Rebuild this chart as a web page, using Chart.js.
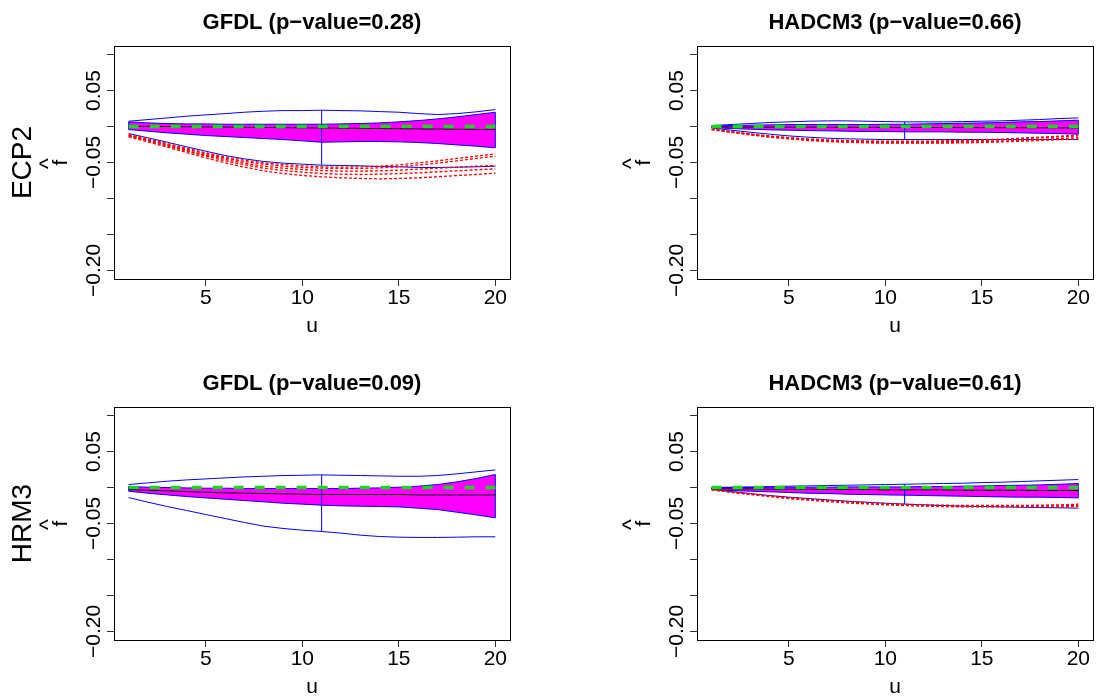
<!DOCTYPE html>
<html>
<head>
<meta charset="utf-8">
<script src="https://cdn.jsdelivr.net/npm/chart.js@4.4.1/dist/chart.umd.min.js"></script>
<style>
html, body { margin: 0; padding: 0; background: #fff; overflow: hidden; }
#wrap { position: relative; width: 1096px; height: 700px; overflow: hidden; }
canvas { position: absolute; }
</style>
</head>
<body>
<div id="wrap">
  <canvas id="c1" width="548" height="350" style="left:0px;top:0px"></canvas>
  <canvas id="c2" width="548" height="350" style="left:583px;top:0px"></canvas>
  <canvas id="c3" width="548" height="350" style="left:0px;top:361px"></canvas>
  <canvas id="c4" width="548" height="350" style="left:583px;top:361px"></canvas>
</div>
<script>
// lag u
const u = [1,2,3,4,5,6,7,8,9,10,11,12,13,14,15,16,17,18,19,20];
const xTickVals = [5,10,15,20];
const yTickVals = [-0.2,-0.15,-0.1,-0.05,0,0.05,0.1];
const yLabelVals = [0.05,-0.05,-0.2];
const yLabelText = ['0.05','\u22120.05','\u22120.20'];
const refZero = [0,0,0,0,0,0,0,0,0,0,0,0,0,0,0,0,0,0,0,0];

// ECP2 / GFDL
const ecp2GfdlOuterUp = [0.0074,0.0097,0.0120,0.0144,0.0162,0.0180,0.0199,0.0213,0.0222,0.0222,0.0227,0.0222,0.0218,0.0208,0.0199,0.0180,0.0167,0.0180,0.0204,0.0236];
const ecp2GfdlBandUp = [0.0065,0.0051,0.0042,0.0037,0.0037,0.0032,0.0032,0.0032,0.0032,0.0032,0.0032,0.0037,0.0042,0.0051,0.0065,0.0083,0.0106,0.0134,0.0167,0.0199];
const ecp2GfdlMid = [0.0005,0.0002,0.0000,-0.0003,-0.0005,-0.0008,-0.0010,-0.0013,-0.0015,-0.0018,-0.0020,-0.0023,-0.0025,-0.0028,-0.0030,-0.0033,-0.0035,-0.0038,-0.0040,-0.0042];
const ecp2GfdlBandLo = [-0.0042,-0.0065,-0.0088,-0.0106,-0.0125,-0.0139,-0.0153,-0.0167,-0.0181,-0.0199,-0.0218,-0.0213,-0.0208,-0.0208,-0.0213,-0.0222,-0.0236,-0.0255,-0.0273,-0.0296];
const ecp2GfdlOuterLo = [-0.0097,-0.0157,-0.0218,-0.0282,-0.0343,-0.0403,-0.0449,-0.0486,-0.0509,-0.0523,-0.0537,-0.0542,-0.0546,-0.0556,-0.0560,-0.0569,-0.0569,-0.0565,-0.0560,-0.0551];
const ecp2GfdlSim1 = [-0.0111,-0.0171,-0.0236,-0.0301,-0.0366,-0.0421,-0.0468,-0.0505,-0.0528,-0.0546,-0.0560,-0.0565,-0.0560,-0.0551,-0.0532,-0.0505,-0.0477,-0.0444,-0.0412,-0.0380];
const ecp2GfdlSim2 = [-0.0120,-0.0181,-0.0250,-0.0315,-0.0380,-0.0440,-0.0486,-0.0523,-0.0551,-0.0569,-0.0579,-0.0583,-0.0583,-0.0574,-0.0560,-0.0537,-0.0509,-0.0477,-0.0444,-0.0412];
const ecp2GfdlSim3 = [-0.0125,-0.0190,-0.0259,-0.0329,-0.0398,-0.0458,-0.0509,-0.0551,-0.0579,-0.0597,-0.0611,-0.0620,-0.0620,-0.0616,-0.0606,-0.0593,-0.0579,-0.0565,-0.0551,-0.0542];
const ecp2GfdlSim4 = [-0.0134,-0.0199,-0.0273,-0.0343,-0.0412,-0.0477,-0.0532,-0.0579,-0.0611,-0.0634,-0.0653,-0.0662,-0.0667,-0.0662,-0.0653,-0.0644,-0.0630,-0.0616,-0.0602,-0.0588];
const ecp2GfdlSim5 = [-0.0144,-0.0213,-0.0287,-0.0361,-0.0435,-0.0505,-0.0565,-0.0616,-0.0653,-0.0681,-0.0699,-0.0713,-0.0722,-0.0727,-0.0722,-0.0713,-0.0699,-0.0681,-0.0667,-0.0648];

// ECP2 / HADCM3
const ecp2HadOuterUp = [0.0014,0.0028,0.0042,0.0056,0.0065,0.0074,0.0079,0.0079,0.0074,0.0069,0.0065,0.0065,0.0065,0.0069,0.0074,0.0079,0.0088,0.0097,0.0111,0.0120];
const ecp2HadBandUp = [0.0005,0.0014,0.0019,0.0023,0.0028,0.0028,0.0028,0.0028,0.0028,0.0032,0.0032,0.0037,0.0042,0.0046,0.0051,0.0056,0.0065,0.0069,0.0079,0.0088];
const ecp2HadMid = [-0.0005,-0.0006,-0.0007,-0.0008,-0.0009,-0.0010,-0.0010,-0.0011,-0.0012,-0.0012,-0.0013,-0.0013,-0.0014,-0.0014,-0.0015,-0.0015,-0.0016,-0.0017,-0.0018,-0.0019];
const ecp2HadBandLo = [-0.0014,-0.0028,-0.0037,-0.0046,-0.0051,-0.0056,-0.0060,-0.0065,-0.0069,-0.0069,-0.0074,-0.0074,-0.0074,-0.0079,-0.0079,-0.0083,-0.0088,-0.0093,-0.0097,-0.0106];
const ecp2HadOuterLo = [-0.0019,-0.0051,-0.0079,-0.0106,-0.0130,-0.0148,-0.0162,-0.0171,-0.0176,-0.0181,-0.0181,-0.0181,-0.0181,-0.0181,-0.0181,-0.0181,-0.0181,-0.0181,-0.0181,-0.0181];
const ecp2HadSim1 = [-0.0032,-0.0069,-0.0102,-0.0130,-0.0153,-0.0171,-0.0185,-0.0194,-0.0199,-0.0204,-0.0204,-0.0204,-0.0199,-0.0194,-0.0185,-0.0176,-0.0162,-0.0148,-0.0134,-0.0116];
const ecp2HadSim2 = [-0.0037,-0.0074,-0.0106,-0.0134,-0.0162,-0.0181,-0.0194,-0.0204,-0.0208,-0.0213,-0.0213,-0.0213,-0.0208,-0.0204,-0.0194,-0.0185,-0.0171,-0.0157,-0.0144,-0.0130];
const ecp2HadSim3 = [-0.0042,-0.0079,-0.0111,-0.0144,-0.0167,-0.0185,-0.0204,-0.0213,-0.0218,-0.0222,-0.0222,-0.0222,-0.0222,-0.0218,-0.0213,-0.0204,-0.0194,-0.0181,-0.0167,-0.0153];
const ecp2HadSim4 = [-0.0042,-0.0079,-0.0116,-0.0148,-0.0171,-0.0194,-0.0208,-0.0218,-0.0227,-0.0231,-0.0231,-0.0231,-0.0231,-0.0227,-0.0222,-0.0213,-0.0204,-0.0194,-0.0181,-0.0171];

// HRM3 / GFDL
const hrm3GfdlOuterUp = [0.0042,0.0065,0.0088,0.0106,0.0120,0.0134,0.0148,0.0157,0.0167,0.0171,0.0176,0.0171,0.0167,0.0162,0.0157,0.0157,0.0167,0.0190,0.0218,0.0245];
const hrm3GfdlBandUp = [0.0014,0.0005,0.0000,-0.0005,-0.0009,-0.0009,-0.0014,-0.0014,-0.0014,-0.0014,-0.0014,-0.0014,-0.0009,-0.0005,0.0005,0.0019,0.0042,0.0079,0.0125,0.0181];
const hrm3GfdlMid = [-0.0028,-0.0037,-0.0046,-0.0056,-0.0065,-0.0074,-0.0079,-0.0083,-0.0088,-0.0093,-0.0097,-0.0097,-0.0097,-0.0097,-0.0097,-0.0102,-0.0102,-0.0102,-0.0102,-0.0102];
const hrm3GfdlBandLo = [-0.0051,-0.0079,-0.0102,-0.0125,-0.0144,-0.0162,-0.0181,-0.0199,-0.0218,-0.0231,-0.0245,-0.0255,-0.0259,-0.0264,-0.0269,-0.0287,-0.0306,-0.0343,-0.0380,-0.0421];
const hrm3GfdlOuterLo = [-0.0139,-0.0204,-0.0264,-0.0319,-0.0375,-0.0431,-0.0486,-0.0537,-0.0569,-0.0593,-0.0611,-0.0634,-0.0662,-0.0681,-0.0690,-0.0694,-0.0694,-0.0690,-0.0685,-0.0685];

// HRM3 / HADCM3
const hrm3HadOuterUp = [0.0000,0.0005,0.0009,0.0014,0.0019,0.0023,0.0028,0.0032,0.0037,0.0042,0.0046,0.0051,0.0056,0.0060,0.0069,0.0074,0.0083,0.0093,0.0102,0.0111];
const hrm3HadBandUp = [0.0000,0.0000,0.0000,0.0005,0.0005,0.0005,0.0005,0.0009,0.0009,0.0009,0.0009,0.0014,0.0014,0.0019,0.0023,0.0028,0.0032,0.0037,0.0046,0.0056];
const hrm3HadMid = [-0.0014,-0.0019,-0.0019,-0.0023,-0.0023,-0.0023,-0.0028,-0.0028,-0.0028,-0.0032,-0.0032,-0.0032,-0.0032,-0.0037,-0.0037,-0.0037,-0.0037,-0.0042,-0.0042,-0.0042];
const hrm3HadBandLo = [-0.0028,-0.0042,-0.0051,-0.0060,-0.0069,-0.0079,-0.0083,-0.0093,-0.0097,-0.0102,-0.0106,-0.0111,-0.0116,-0.0120,-0.0125,-0.0130,-0.0134,-0.0134,-0.0139,-0.0144];
const hrm3HadOuterLo = [-0.0023,-0.0056,-0.0083,-0.0111,-0.0134,-0.0153,-0.0171,-0.0190,-0.0204,-0.0218,-0.0231,-0.0241,-0.0250,-0.0259,-0.0264,-0.0269,-0.0273,-0.0278,-0.0282,-0.0287];
const hrm3HadSim1 = [-0.0028,-0.0060,-0.0088,-0.0116,-0.0139,-0.0162,-0.0181,-0.0194,-0.0208,-0.0222,-0.0231,-0.0241,-0.0245,-0.0250,-0.0250,-0.0250,-0.0250,-0.0245,-0.0241,-0.0231];
const hrm3HadSim2 = [-0.0032,-0.0065,-0.0093,-0.0120,-0.0148,-0.0167,-0.0185,-0.0204,-0.0218,-0.0231,-0.0241,-0.0250,-0.0255,-0.0259,-0.0259,-0.0259,-0.0259,-0.0255,-0.0255,-0.0250];
const hrm3HadSim3 = [-0.0032,-0.0065,-0.0097,-0.0125,-0.0153,-0.0176,-0.0194,-0.0213,-0.0227,-0.0241,-0.0250,-0.0259,-0.0264,-0.0269,-0.0269,-0.0269,-0.0269,-0.0269,-0.0269,-0.0264];

const FONT = '"Liberation Sans", Arial, Helvetica, sans-serif';
const BLUE = '#0000ff';

function pts(arr) {
  return arr.map((y, i) => ({ x: u[i], y: y }));
}

// first dataset is drawn on top
function makeDatasets(p) {
  const last = u.length - 1;
  const mark = 10; // u = 11
  const ds = [];
  ds.push({ data: pts(refZero), borderColor: '#14dc14', borderWidth: 3.5, borderDash: [10, 11], borderCapStyle: 'butt' });
  ds.push({ data: pts(p.mid), borderColor: '#000000', borderWidth: 1 });
  p.sims.forEach(s => ds.push({ data: pts(s), borderColor: '#ff0000', borderWidth: 1.3, borderDash: [3, 2] }));
  ds.push({ data: pts(p.outerUp), borderColor: BLUE, borderWidth: 1 });
  ds.push({ data: pts(p.outerLo), borderColor: BLUE, borderWidth: 1 });
  ds.push({ data: [{ x: u[mark], y: p.outerLo[mark] }, { x: u[mark], y: p.outerUp[mark] }], borderColor: BLUE, borderWidth: 1 });
  ds.push({ data: [{ x: u[last], y: p.bandLo[last] }, { x: u[last], y: p.bandUp[last] }], borderColor: BLUE, borderWidth: 1 });
  ds.push({ data: [{ x: u[0], y: p.bandLo[0] }, { x: u[0], y: p.bandUp[0] }], borderColor: BLUE, borderWidth: 1 });
  ds.push({ data: pts(p.bandUp), borderColor: BLUE, borderWidth: 1, fill: '+1', backgroundColor: '#ff00ff' });
  ds.push({ data: pts(p.bandLo), borderColor: BLUE, borderWidth: 1 });
  return ds;
}

const panelText = {
  id: 'panelText',
  afterDraw(chart, args, opts) {
    const ctx = chart.ctx;
    const a = chart.chartArea;
    const ys = chart.scales.y;
    const cy = (a.top + a.bottom) / 2;
    const cx = (a.left + a.right) / 2;
    ctx.save();
    ctx.strokeStyle = '#000';
    ctx.lineWidth = 1;
    ctx.strokeRect(Math.round(a.left) + 0.5, Math.round(a.top) + 0.5, Math.round(a.right - a.left), Math.round(a.bottom - a.top));
    ctx.fillStyle = '#000';
    ctx.textAlign = 'center';
    ctx.textBaseline = 'alphabetic';
    ctx.font = 'bold 22px ' + FONT;
    ctx.fillText(opts.title, cx, a.top - 17);
    ctx.font = '21px ' + FONT;
    ctx.fillText('u', cx, a.bottom + 53);
    // rotated y tick labels
    yLabelVals.forEach((v, i) => {
      ctx.save();
      ctx.translate(a.left - 14, ys.getPixelForValue(v));
      ctx.rotate(-Math.PI / 2);
      ctx.fillText(yLabelText[i], 0, 0);
      ctx.restore();
    });
    // f hat
    ctx.save();
    ctx.translate(a.left - 47, cy);
    ctx.rotate(-Math.PI / 2);
    ctx.fillText('f', 0, 0);
    ctx.restore();
    ctx.save();
    ctx.font = '23px ' + FONT;
    ctx.translate(a.left - 58, cy + 1);
    ctx.rotate(-Math.PI / 2);
    ctx.fillText('^', 0, 0);
    ctx.restore();
    if (opts.row) {
      ctx.save();
      ctx.font = '28px ' + FONT;
      ctx.translate(a.left - 83, cy);
      ctx.rotate(-Math.PI / 2);
      ctx.fillText(opts.row, 0, 0);
      ctx.restore();
    }
    ctx.restore();
  }
};

function tickGrid() {
  return { display: true, drawOnChartArea: false, drawTicks: true, tickLength: 7, color: '#333', lineWidth: 1 };
}

function makeChart(id, title, row, p) {
  return new Chart(document.getElementById(id), {
    type: 'line',
    data: { datasets: makeDatasets(p) },
    options: {
      responsive: false,
      animation: false,
      layout: { padding: { left: 0, right: 38, top: 46, bottom: 0 } },
      elements: { point: { radius: 0 }, line: { tension: 0, fill: false } },
      plugins: {
        legend: { display: false },
        tooltip: { enabled: false },
        filler: { drawTime: 'beforeDatasetsDraw' },
        panelText: { title: title, row: row }
      },
      scales: {
        x: {
          type: 'linear', min: 0.24, max: 20.76,
          afterBuildTicks: s => { s.ticks = xTickVals.map(v => ({ value: v })); },
          afterFit: s => { s.height = 71; },
          grid: tickGrid(),
          border: { display: false },
          ticks: { color: '#000', font: { family: FONT, size: 21 }, padding: 0, maxRotation: 0, autoSkip: false, callback: v => String(v) }
        },
        y: {
          type: 'linear', min: -0.212, max: 0.112,
          afterBuildTicks: s => { s.ticks = yTickVals.map(v => ({ value: v })); },
          afterFit: s => { s.width = 114; },
          grid: tickGrid(),
          border: { display: false },
          ticks: { display: false }
        }
      }
    },
    plugins: [panelText]
  });
}

makeChart('c1', 'GFDL (p\u2212value=0.28)', 'ECP2', {
  outerUp: ecp2GfdlOuterUp, outerLo: ecp2GfdlOuterLo, bandUp: ecp2GfdlBandUp, bandLo: ecp2GfdlBandLo, mid: ecp2GfdlMid,
  sims: [ecp2GfdlSim1, ecp2GfdlSim2, ecp2GfdlSim3, ecp2GfdlSim4, ecp2GfdlSim5]
});
makeChart('c2', 'HADCM3 (p\u2212value=0.66)', null, {
  outerUp: ecp2HadOuterUp, outerLo: ecp2HadOuterLo, bandUp: ecp2HadBandUp, bandLo: ecp2HadBandLo, mid: ecp2HadMid,
  sims: [ecp2HadSim1, ecp2HadSim2, ecp2HadSim3, ecp2HadSim4]
});
makeChart('c3', 'GFDL (p\u2212value=0.09)', 'HRM3', {
  outerUp: hrm3GfdlOuterUp, outerLo: hrm3GfdlOuterLo, bandUp: hrm3GfdlBandUp, bandLo: hrm3GfdlBandLo, mid: hrm3GfdlMid,
  sims: []
});
makeChart('c4', 'HADCM3 (p\u2212value=0.61)', null, {
  outerUp: hrm3HadOuterUp, outerLo: hrm3HadOuterLo, bandUp: hrm3HadBandUp, bandLo: hrm3HadBandLo, mid: hrm3HadMid,
  sims: [hrm3HadSim1, hrm3HadSim2, hrm3HadSim3]
});
</script>
</body>
</html>
